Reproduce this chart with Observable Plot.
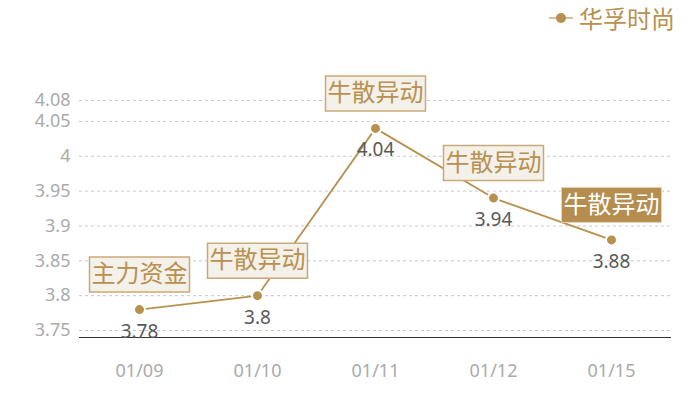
<!DOCTYPE html>
<html>
<head>
<meta charset="utf-8">
<script src="https://cdn.jsdelivr.net/npm/d3@7"></script>
<script src="https://cdn.jsdelivr.net/npm/@observablehq/plot@0.6"></script>
<style>
  html, body { margin: 0; padding: 0; background: #fff; }
  body { width: 700px; height: 400px; position: relative; overflow: hidden; font-family: "Noto Sans CJK SC", "Noto Sans", sans-serif; }
  #legend { position: relative; height: 40px; }
  #legend .item { position: absolute; left: 548px; top: 2px; display: flex; align-items: center; color: #b8914f; font-size: 24px; line-height: 32px; }
  #legend svg { margin-right: 5px; }
</style>
</head>
<body>
<div id="legend"></div>
<div id="chart"></div>
<script>
const seriesName = "华孚时尚";
const dates = ["01/09", "01/10", "01/11", "01/12", "01/15"];
const prices = [3.78, 3.80, 4.04, 3.94, 3.88];
const tags = ["主力资金", "牛散异动", "牛散异动", "牛散异动", "牛散异动"];
const tagHighlighted = [false, false, false, false, true];
const yTicks = [3.75, 3.8, 3.85, 3.9, 3.95, 4, 4.05, 4.08];
const yDomain = [3.74, 4.08];

const data = dates.map((d, i) => ({date: d, price: prices[i], tag: tags[i], hi: tagHighlighted[i]}));

const lineColor = "#b8914f";
const boxSymbol = {draw(ctx) { ctx.rect(-50, -17.5, 100, 35); }};

// legend
document.getElementById("legend").innerHTML =
  `<div class="item"><svg width="26" height="14"><line x1="1" x2="25" y1="7" y2="7" stroke="#d7bf98" stroke-width="2"/><circle cx="13" cy="7" r="5" fill="${lineColor}"/></svg><span>${seriesName}</span></div>`;

const chart = Plot.plot({
  width: 700,
  height: 360,
  marginTop: 60,
  marginBottom: 63,
  marginLeft: 79,
  marginRight: 29,
  style: {fontFamily: "'Noto Sans', 'Noto Sans CJK SC', sans-serif", fontSize: "18px", color: "#aaaaaa", background: "transparent", overflow: "visible"},
  x: {type: "point", domain: dates, padding: 0.5, tickSize: 0, tickPadding: 27, label: null},
  y: {domain: yDomain, ticks: yTicks, tickFormat: d => String(d), tickSize: 0, tickPadding: 9, label: null},
  marks: [
    Plot.ruleY(yTicks, {stroke: "#c8c8c8", strokeDasharray: "3,3"}),
    Plot.ruleY([yDomain[0]], {stroke: "#333333", strokeWidth: 1.2}),
    Plot.line(data, {x: "date", y: "price", stroke: lineColor, strokeWidth: 1.8}),
    Plot.dot(data, {x: "date", y: "price", r: 5.5, fill: lineColor, stroke: "white", strokeWidth: 2}),
    Plot.text(data, {x: "date", y: "price", text: d => String(d.price), dy: 22, fill: "#595959", fontSize: 19}),
    Plot.dot(data.filter(d => !d.hi), {x: "date", y: "price", dy: -35, symbol: boxSymbol, fill: "#f4f0ea", stroke: "#c9a977", strokeWidth: 1.5}),
    Plot.dot(data.filter(d => d.hi), {x: "date", y: "price", dy: -35, symbol: boxSymbol, fill: "#b58d4f", stroke: "#e4d4b8", strokeWidth: 1}),
    Plot.text(data, {x: "date", y: "price", text: "tag", dy: -35, fontSize: 24, fontFamily: "'Noto Sans CJK SC', sans-serif", fill: d => d.hi ? "#ffffff" : "#b8914f"})
  ]
});
document.getElementById("chart").appendChild(chart);
</script>
</body>
</html>
